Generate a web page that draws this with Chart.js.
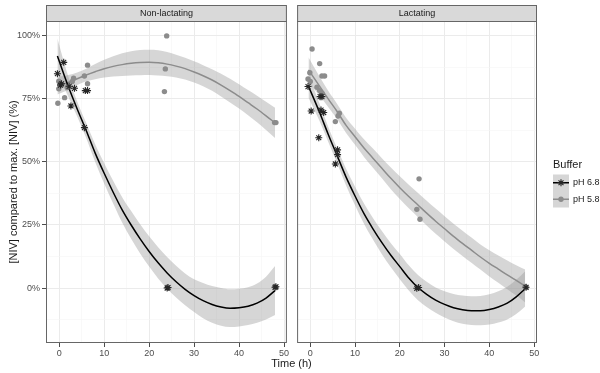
<!DOCTYPE html>
<html>
<head>
<meta charset="utf-8">
<script src="https://cdn.jsdelivr.net/npm/chart.js@4.4.1/dist/chart.umd.min.js"></script>
<style>
  body { margin: 0; background: #fff; }
  #wrap { position: relative; width: 600px; height: 373px; font-family: "Liberation Sans", Arial, sans-serif; }
  canvas { position: absolute; top: 0; }
  #left { left: 0; }
  #right { left: 292px; }
  #xtitle { position: absolute; left: 0; width: 583px; top: 356px; line-height: 14px; text-align: center; font-size: 11px; color: #1a1a1a; }
</style>
</head>
<body>
<div id="wrap">
  <canvas id="left" width="292" height="373"></canvas>
  <canvas id="right" width="308" height="373"></canvas>
  <div id="xtitle">Time (h)</div>
</div>
<script>
// axis ranges and breaks
const X_MIN = -2.94, X_MAX = 50.64;
const Y_MIN = -21.8, Y_MAX = 105.9;
const xBreaks = [0, 5, 10, 15, 20, 25, 30, 35, 40, 45, 50];
const yBreaks = [-12.5, 0, 12.5, 25, 37.5, 50, 62.5, 75, 87.5, 100];

// raw measurements [time h, % of max]
const nonLact68 = [[-0.4, 85], [0.3, 80.5], [0.5, 81], [1.0, 89.5], [2.2, 80], [2.6, 72.2], [3.4, 79.2],
  [5.6, 63.6], [5.8, 78.3], [6.3, 78.3], [24, 0], [24.2, 0.2], [48, 0.3], [48.2, 0.5]];
const nonLact58 = [[-0.3, 73.3], [-0.1, 82], [0.1, 80.5], [-0.1, 79], [1.2, 75.5], [1.8, 79.5], [2.9, 81.9],
  [3.2, 83.2], [5.6, 84.1], [6.3, 88.4], [6.3, 81], [23.9, 100], [23.6, 86.9], [23.4, 77.9], [47.9, 65.6], [48.2, 65.6]];
const lact68 = [[-0.5, 79.9], [2.2, 75.9], [2.6, 75.9], [0.2, 70.2], [2.4, 70.6], [3.0, 69.6], [1.9, 59.6],
  [6.1, 54.8], [6.1, 52.9], [5.6, 49.2], [23.8, -0.1], [24.2, 0.2], [48.2, 0.3]];
const lact58 = [[0.4, 94.8], [2.1, 89], [-0.1, 85.4], [-0.5, 82.9], [0, 81.9], [2.6, 84.1], [3.2, 84.1], [1.5, 79.6],
  [2.1, 78.3], [2.6, 77.3], [6.5, 69.3], [6.2, 68.2], [5.6, 66], [24.3, 43.3], [23.8, 31.2], [24.5, 27.3], [48.2, 0.3], [48, 0.5]];

// smoother
const fitX = [-0.4, 2, 4, 6, 8, 10, 12, 14, 16, 18, 20, 22, 24, 26, 28, 30, 32, 34, 36, 38, 40, 42, 44, 46, 48];
const nonLact68Fit = [92, 80, 71, 62.5, 53.5, 45.5, 38, 31, 25, 19.5, 14.5, 10, 6, 2.5, -0.5, -3, -5, -6.5, -7.5, -8, -7.8, -7.2, -6, -4, -1];
const nonLact68Hi = [99, 84, 74, 65.5, 57, 49.5, 42.5, 36, 30.5, 25.3, 20.5, 16.2, 12.3, 8.8, 5.8, 3.5, 2, 0.8, 0, -0.5, -0.3, 0.3, 1.8, 4.5, 8.7];
const nonLact68Lo = [85, 76, 68, 59.5, 50, 41.5, 33.5, 26, 19.5, 13.7, 8.5, 3.8, -0.3, -3.8, -6.8, -9.5, -12, -13.8, -15, -15.5, -15.3, -14.7, -13.8, -12.5, -10.7];
const nonLact58Fit = [80.3, 81.5, 83, 84.5, 85.8, 87, 87.9, 88.6, 89.1, 89.4, 89.5, 89.3, 88.8, 88, 87, 85.7, 84.2, 82.5, 80.5, 78.3, 76, 73.5, 71, 68.3, 65.5];
const nonLact58Hi = [83.8, 84.5, 85.5, 87, 88.8, 90.5, 91.9, 93.1, 93.9, 94.4, 94.5, 94.3, 93.6, 92.5, 91.3, 89.9, 88.4, 86.8, 85, 83, 80.8, 78.5, 76.3, 73.9, 71.5];
const nonLact58Lo = [76.8, 78.5, 80.5, 82, 82.8, 83.5, 83.9, 84.1, 84.3, 84.4, 84.5, 84.3, 84, 83.5, 82.7, 81.5, 80, 78.2, 76, 73.6, 71.2, 68.5, 65.7, 62.7, 59.5];
const lact68Fit = [80, 70, 61, 52.5, 44, 36.5, 29.5, 23.5, 18, 13, 8.5, 4, 0.3, -2.5, -4.8, -6.5, -7.8, -8.6, -9, -9, -8.5, -7.5, -6, -3.5, -0.3];
const lact68Hi = [84.5, 73.5, 64, 55.5, 47.3, 40.2, 33.5, 27.8, 22.6, 17.8, 13.5, 9, 5.3, 2.5, 0.2, -1.3, -2.4, -3, -3.3, -3.2, -2.5, -1.3, 0.5, 3.3, 6.7];
const lact68Lo = [75.5, 66.5, 58, 49.5, 40.7, 32.8, 25.5, 19.2, 13.4, 8.2, 3.5, -1, -4.7, -7.5, -9.8, -11.7, -13.2, -14.2, -14.7, -14.8, -14.5, -13.7, -12.5, -10.3, -7.3];
const lact58Fit = [86.5, 80.3, 75, 70, 64.5, 60, 55.5, 51.5, 47.5, 43.5, 39.8, 36.3, 33, 29.7, 26.5, 23.5, 20.5, 17.7, 15, 12.3, 9.8, 7.5, 5.2, 3, 0.8];
const lact58Hi = [91.5, 84.1, 78.2, 73, 67.5, 63.2, 59, 55.3, 51.5, 47.8, 44.3, 41, 37.8, 34.6, 31.5, 28.5, 25.5, 22.7, 20, 17.3, 15, 12.9, 10.9, 9, 7.3];
const lact58Lo = [81.5, 76.5, 71.8, 67, 61.5, 56.8, 52, 47.7, 43.5, 39.2, 35.3, 31.6, 28.2, 24.8, 21.5, 18.5, 15.5, 12.7, 10, 7.3, 4.6, 2.1, -0.5, -3, -5.7];

const FONT = '"Liberation Sans", Arial, sans-serif';
const RIBBON = "rgba(153,153,153,0.4)";
const BLACK = "#000000";
const GREY = "#8c8c8c";

const toXY = pairs => pairs.map(p => ({ x: p[0], y: p[1] }));
const curve = ys => fitX.map((x, i) => ({ x, y: ys[i] }));

function panelDatasets(f68, lo68, hi68, f58, lo58, hi58, p68, p58) {
  const band = { showLine: true, borderWidth: 0, pointRadius: 0, backgroundColor: RIBBON, cubicInterpolationMode: "monotone", order: 3 };
  const line = { showLine: true, borderWidth: 1.5, pointRadius: 0, fill: false, cubicInterpolationMode: "monotone", order: 2 };
  return [
    { ...band, data: curve(lo68), fill: false },
    { ...band, data: curve(hi68), fill: "-1" },
    { ...band, data: curve(lo58), fill: false },
    { ...band, data: curve(hi58), fill: "-1" },
    { ...line, data: curve(f68), borderColor: BLACK },
    { ...line, data: curve(f58), borderColor: GREY },
    { data: toXY(p68), showLine: false, pointStyle: "star", pointRadius: 3.5, borderColor: "#262626", borderWidth: 1.1, backgroundColor: "#262626", order: 0 },
    { data: toXY(p58), showLine: false, pointStyle: "circle", pointRadius: 2.7, borderWidth: 0, backgroundColor: GREY, order: 1 },
  ];
}

const isMajorX = c => c.tick && c.tick.value % 10 === 0;
const isMajorY = c => c.tick && c.tick.value % 25 === 0;

function xScale() {
  return {
    type: "linear", min: X_MIN, max: X_MAX,
    afterBuildTicks: s => { s.ticks = xBreaks.map(v => ({ value: v })); },
    afterFit: s => { s.height = 30; },
    border: { display: false },
    grid: {
      color: c => isMajorX(c) ? "#ebebeb" : "#f5f5f5",
      lineWidth: c => isMajorX(c) ? 1 : 0.6,
      tickColor: c => isMajorX(c) ? "#4d4d4d" : "rgba(0,0,0,0)",
      tickLength: 4,
    },
    ticks: { autoSkip: false, maxRotation: 0, padding: 1, color: "#4d4d4d", font: { family: FONT, size: 9 },
      callback: v => v % 10 === 0 ? String(v) : "" },
  };
}

function yScale(showAxis) {
  return {
    type: "linear", min: Y_MIN, max: Y_MAX,
    afterBuildTicks: s => { s.ticks = yBreaks.map(v => ({ value: v })); },
    afterFit: s => { s.width = showAxis ? 46 : 0; },
    border: { display: false },
    grid: {
      color: c => isMajorY(c) ? "#ebebeb" : "#f5f5f5",
      lineWidth: c => isMajorY(c) ? 1 : 0.6,
      tickColor: c => isMajorY(c) ? "#4d4d4d" : "rgba(0,0,0,0)",
      drawTicks: showAxis,
      tickLength: 4,
    },
    ticks: { display: showAxis, autoSkip: false, padding: 2, color: "#4d4d4d", font: { family: FONT, size: 9 },
      callback: v => v % 25 === 0 ? v + "%" : "" },
    title: { display: showAxis, text: "[NIV] compared to max. [NIV] (%)", color: "#1a1a1a",
      font: { family: FONT, size: 11 }, padding: { top: 7, bottom: 0 } },
  };
}

// strip, panel border and (right panel) legend
const facet = {
  id: "facet",
  afterDraw(chart, args, opts) {
    const { ctx, chartArea: a } = chart;
    ctx.save();
    ctx.fillStyle = "#d9d9d9";
    ctx.fillRect(a.left, 5, a.right - a.left, a.top - 5);
    ctx.strokeStyle = "#666";
    ctx.lineWidth = 1;
    ctx.strokeRect(a.left + 0.5, 5.5, a.right - a.left - 1, a.top - 5);
    ctx.strokeRect(a.left + 0.5, a.top + 0.5, a.right - a.left - 1, a.bottom - a.top - 1);
    ctx.fillStyle = "#1a1a1a";
    ctx.font = "9px " + FONT;
    ctx.textAlign = "center";
    ctx.textBaseline = "middle";
    ctx.fillText(opts.label, (a.left + a.right) / 2, 13.5);

    if (opts.legend) {
      const lx = 553 - 292;
      ctx.textAlign = "left";
      ctx.font = "11px " + FONT;
      ctx.fillText("Buffer", lx, 165);
      const keys = [
        { text: "pH 6.8", color: BLACK, style: "star", r: 3.5, pt: "#262626", bw: 1.1 },
        { text: "pH 5.8", color: GREY, style: "circle", r: 2.7, pt: GREY, bw: 0 },
      ];
      keys.forEach((k, i) => {
        const top = 174.5 + i * 16.5;
        const cy = top + 8.25;
        ctx.fillStyle = RIBBON;
        ctx.fillRect(lx, top, 16, 16.5);
        ctx.strokeStyle = k.color;
        ctx.lineWidth = 1.5;
        ctx.beginPath();
        ctx.moveTo(lx, cy);
        ctx.lineTo(lx + 16, cy);
        ctx.stroke();
        ctx.strokeStyle = k.pt;
        ctx.fillStyle = k.pt;
        ctx.lineWidth = k.bw;
        Chart.helpers.drawPoint(ctx, { pointStyle: k.style, radius: k.r, rotation: 0, borderWidth: k.bw }, lx + 8, cy);
        ctx.fillStyle = "#1a1a1a";
        ctx.font = "9px " + FONT;
        ctx.fillText(k.text, lx + 20, cy);
      });
    }
    ctx.restore();
  },
};

function makePanel(canvasId, label, datasets, showY, padding, legend) {
  return new Chart(document.getElementById(canvasId), {
    type: "line",
    data: { datasets },
    options: {
      responsive: false,
      animation: false,
      events: [],
      layout: { padding },
      scales: { x: xScale(), y: yScale(showY) },
      plugins: {
        legend: { display: false },
        tooltip: { enabled: false },
        filler: { drawTime: "beforeDatasetsDraw" },
        facet: { label, legend },
      },
    },
    plugins: [facet],
  });
}

makePanel("left", "Non-lactating",
  panelDatasets(nonLact68Fit, nonLact68Lo, nonLact68Hi, nonLact58Fit, nonLact58Lo, nonLact58Hi, nonLact68, nonLact58),
  true, { top: 21, right: 3, left: 0, bottom: 0 }, false);

makePanel("right", "Lactating",
  panelDatasets(lact68Fit, lact68Lo, lact68Hi, lact58Fit, lact58Lo, lact58Hi, lact68, lact58),
  false, { top: 21, right: 63, left: 1, bottom: 0 }, true);
</script>
</body>
</html>
